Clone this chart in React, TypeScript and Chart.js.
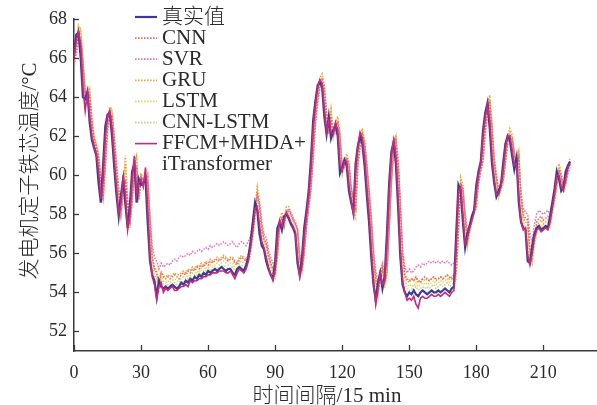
import React, { useEffect, useRef } from "react";
import { Chart, registerables } from "chart.js";

Chart.register(...registerables);

const seriesNames = ["真实值", "CNN", "SVR", "GRU", "LSTM", "CNN-LSTM", "FFCM+MHDA+iTransformer"];
const legendLines = [["真实值"], ["CNN"], ["SVR"], ["GRU"], ["LSTM"], ["CNN-LSTM"], ["FFCM+MHDA+", "iTransformer"]];
const xTicks = [0, 30, 60, 90, 120, 150, 180, 210];
const yTicks = [52, 54, 56, 58, 60, 62, 64, 66, 68];
const xTitle = "时间间隔/15 min";
const yTitle = "发电机定子铁芯温度/°C";

const actual = [
66.2,67.2,67.3,66.0,64.0,63.9,64.3,62.7,61.8,61.4,
61.0,59.6,58.6,60.5,62.5,63.1,63.2,62.0,60.4,59.0,
57.9,59.0,59.8,58.5,57.3,58.5,60.2,60.6,58.6,59.8,
59.5,59.6,59.8,57.5,55.6,54.9,54.6,53.8,54.6,54.3,
54.2,54.3,54.2,54.3,54.4,54.3,54.2,54.3,54.5,54.4,
54.6,54.5,54.7,54.6,54.8,54.7,54.9,54.8,55.0,54.9,
55.1,55.0,55.1,55.2,55.1,55.2,55.3,55.2,55.1,55.2,
55.2,55.0,54.9,55.2,55.3,55.2,55.1,55.4,55.8,56.6,
57.6,58.6,58.2,57.0,56.4,56.2,55.6,55.2,54.9,54.7,
55.6,57.3,57.6,57.2,57.9,58.0,57.8,57.5,57.3,57.0,
55.5,54.9,55.8,57.3,58.2,59.2,60.8,62.8,63.8,64.6,
64.8,64.5,63.0,62.1,63.0,61.9,62.3,62.6,62.0,60.1,
60.4,60.8,60.5,59.2,58.6,58.1,60.6,61.5,62.0,61.6,
60.5,59.0,57.6,55.8,54.4,53.6,54.5,55.0,54.2,54.8,
57.0,59.6,61.2,61.7,60.6,58.4,55.8,54.4,54.0,53.8,
54.0,53.9,54.1,53.9,53.8,54.0,54.1,54.0,53.9,54.0,
54.1,54.0,54.0,54.1,54.0,54.1,54.2,54.1,54.0,54.2,
54.3,57.0,59.5,59.2,57.6,56.3,57.0,57.4,57.9,58.2,
59.5,60.2,60.7,62.3,63.2,63.7,62.4,60.6,59.6,58.9,
59.2,59.5,60.6,61.6,62.0,61.8,61.0,60.3,60.9,58.6,
57.6,57.3,57.2,55.6,55.5,56.4,57.0,57.3,57.4,57.2,
57.3,57.4,57.3,57.9,58.6,59.3,60.2,59.8,59.2,59.4,
60.2,60.5,60.7];

const cnn = [
65.8,66.4,67.1,67.0,65.6,64.2,64.0,64.0,62.6,61.9,
61.5,60.9,59.8,58.9,60.6,62.4,63.2,63.0,61.8,60.4,
59.2,58.2,59.2,59.7,58.4,57.6,58.8,60.2,60.4,58.8,
59.9,59.6,59.8,59.6,57.6,55.8,55.2,55.0,54.4,55.0,
54.8,54.7,54.8,54.7,54.8,54.9,54.8,54.7,54.9,55.0,
54.9,55.1,55.0,55.2,55.1,55.3,55.2,55.4,55.3,55.5,
55.4,55.6,55.5,55.6,55.7,55.6,55.7,55.8,55.7,55.6,
55.7,55.7,55.5,55.4,55.7,55.8,55.7,55.6,55.9,56.3,
57.0,58.0,59.0,58.4,57.3,56.7,56.5,55.9,55.5,55.2,
55.0,55.9,57.4,57.8,57.4,58.1,58.2,58.0,57.7,57.5,
57.2,55.8,55.1,56.0,57.4,58.4,59.4,61.0,62.9,63.9,
64.7,64.9,64.5,63.1,62.3,63.0,62.1,62.4,62.7,62.1,
60.3,60.5,60.9,60.6,59.4,58.7,58.3,60.7,61.6,62.1,
61.7,60.6,59.2,57.8,56.0,54.7,54.0,54.7,55.2,54.5,
55.0,57.2,59.7,61.3,61.8,60.7,58.6,56.0,54.9,54.7,
54.6,54.7,54.6,54.8,54.6,54.5,54.7,54.8,54.7,54.6,
54.7,54.8,54.7,54.7,54.8,54.7,54.8,54.9,54.8,54.7,
54.9,55.0,57.2,59.6,59.3,57.8,56.6,57.2,57.6,58.1,
58.4,59.6,60.3,60.8,62.4,63.3,63.8,62.5,60.8,59.8,
59.1,59.4,59.7,60.7,61.7,62.1,61.9,61.1,60.5,60.9,
58.9,58.0,57.8,57.7,56.2,56.1,56.9,57.6,57.8,57.9,
57.7,57.8,57.9,57.8,58.3,58.8,59.5,60.3,60.0,59.4,
59.6,60.3,60.6];

const svr = [
65.5,66.2,66.9,66.9,65.8,64.1,63.8,64.1,62.9,61.8,
61.3,60.8,59.7,58.8,60.3,62.2,63.0,63.1,62.0,60.6,
59.3,58.0,59.0,59.8,58.7,57.5,58.6,60.0,60.5,58.9,
59.7,59.8,59.5,59.9,57.9,56.4,55.8,55.6,55.2,55.5,
55.3,55.4,55.5,55.4,55.6,55.7,55.6,55.8,55.9,55.8,
55.9,56.0,55.9,56.1,56.0,56.1,56.2,56.1,56.2,56.3,
56.2,56.4,56.3,56.4,56.5,56.4,56.5,56.6,56.5,56.4,
56.5,56.6,56.4,56.3,56.5,56.6,56.5,56.4,56.6,56.9,
57.5,58.3,59.0,58.6,57.6,57.0,56.8,56.2,55.8,55.5,
55.3,56.0,57.4,57.9,57.6,58.1,58.3,58.1,57.8,57.6,
57.3,56.0,55.4,56.1,57.3,58.3,59.2,60.7,62.5,63.6,
64.4,64.7,64.3,63.0,62.2,62.8,62.0,62.2,62.5,61.9,
60.4,60.4,60.8,60.5,59.4,58.8,58.4,60.4,61.4,61.9,
61.5,60.5,59.3,57.9,56.2,55.1,54.5,55.1,55.5,55.0,
55.4,57.3,59.6,61.0,61.5,60.5,58.5,56.2,55.3,55.0,
55.2,55.0,55.1,55.3,55.4,55.3,55.5,55.4,55.5,55.6,
55.5,55.6,55.5,55.6,55.5,55.6,55.5,55.6,55.5,55.4,
55.5,55.6,57.4,59.4,59.2,58.0,57.2,57.5,57.9,58.3,
58.6,59.6,60.2,60.7,62.1,63.0,63.5,62.4,60.9,60.0,
59.4,59.6,59.8,60.6,61.5,61.9,61.8,61.2,60.6,60.8,
59.1,58.3,58.1,58.0,57.0,56.6,57.5,58.0,58.2,58.1,
58.0,58.1,58.2,58.0,58.5,59.0,59.6,60.2,59.8,59.3,
59.6,60.1,60.4];

const gru = [
66.0,66.8,67.6,67.5,66.0,64.3,64.0,64.4,62.8,62.0,
61.6,61.1,59.8,58.8,60.8,62.8,63.5,63.4,62.0,60.5,
59.1,58.1,59.4,61.0,58.7,57.5,58.9,60.6,61.0,58.9,
60.1,59.8,59.9,60.1,57.7,55.8,55.3,55.1,54.5,55.1,
54.8,54.8,54.9,54.8,54.9,55.0,54.9,54.9,55.0,55.1,
55.0,55.2,55.1,55.3,55.2,55.4,55.3,55.5,55.4,55.6,
55.5,55.7,55.6,55.7,55.8,55.7,55.8,55.9,55.8,55.7,
55.8,55.8,55.6,55.5,55.8,55.9,55.8,55.7,56.0,56.4,
57.2,58.4,59.4,58.6,57.4,56.8,56.5,56.0,55.5,55.2,
55.0,56.0,57.7,58.1,57.6,58.4,58.4,58.1,57.8,57.6,
57.2,55.7,55.2,56.2,57.7,58.6,59.6,61.3,63.2,64.2,
65.0,65.2,64.6,63.2,62.4,63.4,62.2,62.7,63.0,62.2,
60.3,60.7,61.1,60.7,59.3,58.7,58.3,61.0,61.9,62.4,
61.8,60.6,59.0,57.6,55.8,54.6,54.0,54.9,55.4,54.5,
55.1,57.5,60.0,61.6,62.0,60.8,58.5,55.9,54.8,54.6,
54.5,54.7,54.6,54.7,54.5,54.6,54.7,54.6,54.7,54.6,
54.7,54.8,54.6,54.7,54.8,54.7,54.8,54.9,54.7,54.8,
54.9,55.0,57.4,59.9,59.5,57.9,56.6,57.3,57.8,58.3,
58.6,59.9,60.6,61.1,62.7,63.7,64.1,62.6,60.8,59.8,
59.1,59.5,59.8,61.0,62.0,62.4,62.1,61.2,60.5,61.2,
58.9,57.8,57.6,57.5,55.9,55.7,56.7,57.3,57.6,57.7,
57.5,57.6,57.7,57.6,58.2,58.9,59.6,60.6,60.1,59.4,
59.7,60.5,60.9];

const lstm = [
66.1,66.9,67.7,67.4,65.8,64.2,64.0,64.3,62.7,61.9,
61.5,61.0,59.7,58.7,60.7,62.7,63.4,63.3,61.9,60.3,
59.0,58.0,59.3,60.5,58.6,57.4,58.8,60.5,60.8,58.8,
60.0,59.7,59.8,59.9,57.6,55.6,55.0,54.8,54.2,54.8,
54.6,54.5,54.6,54.5,54.6,54.7,54.6,54.5,54.7,54.8,
54.7,54.9,54.8,55.0,54.9,55.1,55.0,55.2,55.1,55.3,
55.2,55.4,55.3,55.4,55.5,55.4,55.5,55.6,55.5,55.4,
55.5,55.5,55.3,55.2,55.5,55.6,55.5,55.4,55.7,56.1,
56.9,58.0,59.0,58.4,57.2,56.6,56.4,55.8,55.3,55.0,
54.8,55.8,57.5,57.9,57.4,58.2,58.2,58.0,57.7,57.5,
57.1,55.6,55.0,56.0,57.5,58.4,59.4,61.1,63.0,64.0,
64.8,65.0,64.4,63.0,62.2,63.2,62.0,62.5,62.8,62.0,
60.1,60.5,60.9,60.5,59.1,58.2,57.9,60.8,61.7,62.2,
61.6,60.4,58.8,57.4,55.6,54.4,53.8,54.7,55.2,54.3,
54.9,57.3,59.8,61.4,61.9,60.6,58.3,55.7,54.6,54.4,
54.3,54.4,54.3,54.5,54.3,54.4,54.5,54.4,54.5,54.4,
54.5,54.6,54.4,54.5,54.6,54.5,54.6,54.7,54.5,54.6,
54.7,54.8,57.2,59.7,59.3,57.7,56.4,57.1,57.6,58.1,
58.4,59.7,60.4,60.9,62.5,63.5,63.9,62.4,60.6,59.6,
58.9,59.3,59.6,60.8,61.8,62.2,61.9,61.0,60.3,61.0,
58.7,57.6,57.4,57.3,55.7,55.5,56.5,57.1,57.4,57.5,
57.3,57.4,57.5,57.4,58.0,58.7,59.4,60.4,59.9,59.2,
59.5,60.3,60.7];

const cnnLstm = [
66.0,66.7,67.4,67.2,65.7,64.1,63.9,64.2,62.6,61.8,
61.4,60.9,59.6,58.7,60.6,62.6,63.3,63.2,61.8,60.2,
58.9,57.9,59.2,60.2,58.5,57.3,58.7,60.4,60.7,58.7,
59.9,59.6,59.7,59.8,57.5,55.5,54.9,54.6,54.0,54.7,
54.4,54.3,54.4,54.3,54.4,54.5,54.4,54.3,54.5,54.6,
54.5,54.7,54.6,54.8,54.7,54.9,54.8,55.0,54.9,55.1,
55.0,55.2,55.1,55.2,55.3,55.2,55.3,55.4,55.3,55.2,
55.3,55.3,55.1,55.0,55.3,55.4,55.3,55.2,55.5,55.9,
56.7,57.8,58.8,58.3,57.1,56.5,56.3,55.7,55.2,54.9,
54.7,55.7,57.4,57.8,57.3,58.1,58.1,57.9,57.6,57.4,
57.0,55.5,54.9,55.9,57.4,58.3,59.3,61.0,62.9,63.9,
64.7,64.9,64.3,62.9,62.1,63.1,61.9,62.4,62.7,61.9,
60.0,60.4,60.8,60.4,59.0,58.1,57.8,60.7,61.6,62.1,
61.5,60.3,58.7,57.3,55.5,54.3,53.7,54.6,55.1,54.2,
54.8,57.2,59.7,61.3,61.8,60.5,58.2,55.6,54.5,54.2,
54.1,54.2,54.1,54.3,54.1,54.2,54.3,54.2,54.3,54.2,
54.3,54.4,54.2,54.3,54.4,54.3,54.4,54.5,54.3,54.4,
54.5,54.6,57.1,59.6,59.2,57.6,56.3,57.0,57.5,58.0,
58.3,59.6,60.3,60.8,62.4,63.4,63.8,62.3,60.5,59.5,
58.8,59.2,59.5,60.7,61.7,62.1,61.8,60.9,60.2,60.9,
58.6,57.5,57.3,57.2,55.6,55.4,56.4,57.0,57.3,57.4,
57.2,57.3,57.4,57.3,57.9,58.6,59.3,60.3,59.8,59.1,
59.4,60.2,60.6];

const proposed = [
66.0,66.9,67.4,66.6,64.5,63.3,64.2,63.0,62.0,61.5,
61.1,60.2,58.8,59.8,62.0,63.0,63.3,62.4,60.8,59.4,
58.0,58.6,60.0,59.0,57.2,58.0,59.8,61.0,59.0,59.6,
59.8,59.4,60.4,58.2,55.9,54.8,54.4,53.6,54.3,54.5,
54.0,54.2,54.1,54.2,54.3,54.1,54.1,54.2,54.3,54.3,
54.4,54.3,54.6,54.5,54.6,54.6,54.7,54.7,54.8,54.8,
54.9,54.9,55.0,55.0,55.0,55.1,55.1,55.1,55.0,55.0,
55.1,54.9,54.7,55.0,55.2,55.1,55.0,55.2,55.6,56.3,
57.2,58.3,58.4,57.4,56.6,56.3,55.8,55.3,54.9,54.6,
55.2,56.9,57.7,57.4,57.7,58.1,57.9,57.6,57.4,57.1,
55.8,54.8,55.4,56.9,58.0,59.0,60.4,62.4,63.6,64.5,
64.9,64.7,63.4,62.2,62.8,62.2,62.1,62.7,62.3,60.5,
60.2,60.7,60.7,59.5,58.7,58.0,60.2,61.5,62.2,61.9,
60.9,59.4,58.0,56.2,54.6,53.4,54.2,55.0,54.4,54.6,
56.6,59.2,61.0,61.8,61.0,58.9,56.2,54.6,54.0,53.6,
53.7,53.6,53.8,53.4,53.2,53.7,53.8,53.7,53.7,53.8,
53.9,53.8,53.8,53.9,53.8,53.9,54.0,53.9,53.8,54.0,
54.1,56.4,59.2,59.4,58.0,56.5,56.8,57.3,57.7,58.1,
59.2,60.1,60.6,62.0,63.0,63.6,62.8,61.0,59.8,59.0,
59.0,59.4,60.3,61.4,62.0,62.0,61.3,60.5,60.6,59.0,
57.6,57.2,57.3,55.9,55.4,56.0,56.8,57.2,57.3,57.1,
57.2,57.3,57.2,57.6,58.3,59.1,60.0,60.0,59.4,59.2,
59.9,60.4,60.6];

const seriesValues = [actual, cnn, svr, gru, lstm, cnnLstm, proposed];
const seriesColors = ["#3d3a93", "#ee6a5a", "#e674b4", "#eba43c", "#e6d65a", "#c9d398", "#c42a82"];
const seriesWidths = [2.2, 1.5, 1.5, 1.5, 1.5, 1.5, 1.6];
const seriesDashed = [false, true, true, true, true, true, false];
const seriesOrder = [1, 3, 4, 5, 6, 7, 0];

const SERIF = '"Liberation Serif", "Times New Roman", "Noto Sans CJK SC", serif';
const TEXT = "#2a2a2a";
const AXIS = "#3a3a3a";

const decorPlugin = {
  id: "decor",
  afterDraw(chart: any) {
    const ctx = chart.ctx;
    const xs = chart.scales.x;
    const ys = chart.scales.y;
    const area = chart.chartArea;
    ctx.save();
    ctx.strokeStyle = AXIS;
    ctx.lineWidth = 1.3;
    ctx.setLineDash([]);
    yTicks.forEach((v) => {
      const y = Math.round(ys.getPixelForValue(v)) + 0.5;
      ctx.beginPath();
      ctx.moveTo(area.left, y);
      ctx.lineTo(area.left + 5, y);
      ctx.stroke();
    });
    xTicks.forEach((v) => {
      const x = Math.round(xs.getPixelForValue(v)) + 0.5;
      ctx.beginPath();
      ctx.moveTo(x, area.bottom);
      ctx.lineTo(x, area.bottom - 6);
      ctx.stroke();
    });
    const lx0 = 135, lx1 = 157, tx = 162, ly0 = 17, step = 21.1;
    let row = 0;
    chart.data.datasets.forEach((ds: any, i: number) => {
      const y = ly0 + row * step;
      ctx.beginPath();
      ctx.setLineDash(ds.borderDash || []);
      ctx.strokeStyle = ds.borderColor;
      ctx.lineWidth = ds.borderWidth + (ds.borderDash ? 0.3 : 0);
      ctx.moveTo(lx0, y);
      ctx.lineTo(lx1, y);
      ctx.stroke();
      ctx.setLineDash([]);
      ctx.fillStyle = TEXT;
      ctx.font = `300 21px ${SERIF}`;
      ctx.textBaseline = "middle";
      ctx.textAlign = "left";
      legendLines[i].forEach((t, k) => {
        ctx.fillText(t, tx, ly0 + (row + k) * step);
      });
      row += legendLines[i].length;
    });
    ctx.fillStyle = TEXT;
    ctx.font = `300 21px ${SERIF}`;
    ctx.textAlign = "center";
    ctx.textBaseline = "middle";
    ctx.fillText(xTitle, 327, 396);
    ctx.translate(30, 171);
    ctx.rotate(-Math.PI / 2);
    ctx.fillText(yTitle, 0, 0);
    ctx.restore();
  },
};

export default function App() {
  const ref = useRef<HTMLCanvasElement>(null);
  useEffect(() => {
    if (!ref.current) return;
    const datasets = seriesNames.map((name, i) => ({
      label: name,
      data: seriesValues[i].map((v, k) => ({ x: k, y: v })),
      borderColor: seriesColors[i],
      backgroundColor: seriesColors[i],
      borderWidth: seriesWidths[i],
      borderDash: seriesDashed[i] ? [1.6, 1.4] : undefined,
      pointRadius: 0,
      tension: 0,
      fill: false,
      order: seriesOrder[i],
    }));
    const chart = new Chart(ref.current, {
      type: "line",
      data: { datasets },
      options: {
        animation: false,
        responsive: false,
        devicePixelRatio: 1,
        layout: { padding: { top: 19, right: 0, left: 0, bottom: 0 } },
        plugins: { legend: { display: false }, tooltip: { enabled: false } },
        scales: {
          x: {
            type: "linear",
            min: 0,
            max: 234,
            afterFit: (s: any) => { s.height = 54; },
            afterBuildTicks: (s: any) => { s.ticks = xTicks.map((v) => ({ value: v })); },
            grid: { display: true, drawOnChartArea: false, drawTicks: false, color: "rgba(0,0,0,0)" },
            border: { display: true, color: AXIS, width: 1.5 },
            ticks: { color: TEXT, font: { family: SERIF, size: 18 }, padding: 11, maxRotation: 0, autoSkip: false },
          },
          y: {
            type: "linear",
            min: 51,
            max: 68,
            afterFit: (s: any) => { s.width = 74; },
            afterBuildTicks: (s: any) => { s.ticks = yTicks.map((v) => ({ value: v })); },
            grid: { display: true, drawOnChartArea: false, drawTicks: false, color: "rgba(0,0,0,0)" },
            border: { display: true, color: AXIS, width: 1.5 },
            ticks: { color: TEXT, font: { family: SERIF, size: 18 }, padding: 7, autoSkip: false },
          },
        },
      },
      plugins: [decorPlugin],
    });
    return () => chart.destroy();
  }, []);
  return (
    <div style={{ position: "absolute", left: 0, top: 0, width: 597, height: 405, background: "#fff" }}>
      <canvas ref={ref} width={597} height={405} style={{ display: "block" }} />
    </div>
  );
}
